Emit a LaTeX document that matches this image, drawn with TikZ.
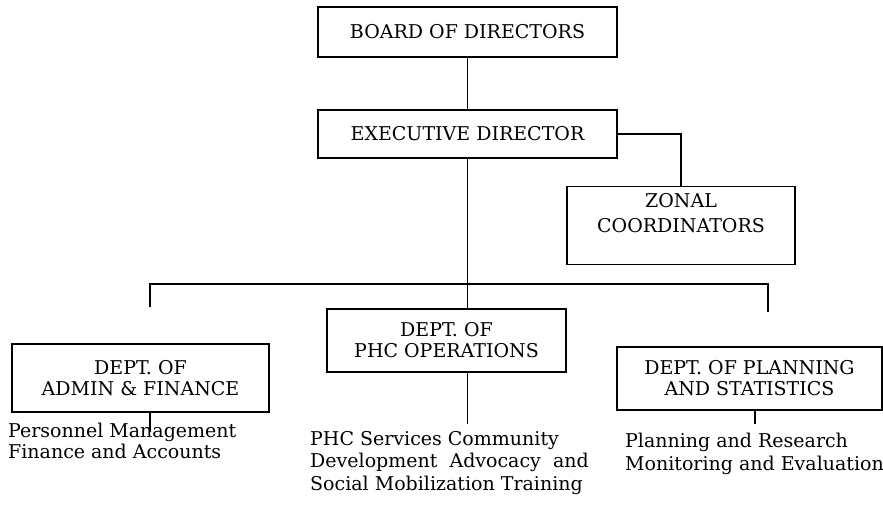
\documentclass[tikz,border=0pt]{standalone}
\usepackage{fontspec}
\setmainfont{DejaVu Serif}
\usetikzlibrary{positioning}
\tikzstyle{line} = [draw, line width=1.1pt]

\begin{document}
\begin{tikzpicture}[x=1pt, y=-1pt, box/.style={rectangle, draw=black, line width=1.1pt, align=center, inner sep=0pt}, txt/.style={align=left, inner sep=0pt, anchor=north west}, font=\fontsize{19}{21}\selectfont]

    \useasboundingbox (0,0) rectangle (883,504);

    \node[box, minimum width=299, minimum height=50] (bod) at (467.5,32) {BOARD OF DIRECTORS};
    \node[box, minimum width=299, minimum height=48] (ed) at (467.5,134) {EXECUTIVE DIRECTOR};
    \node[box, minimum width=228, minimum height=78, anchor=north] (zc) at (681,186) {};
    \node[anchor=north, align=center, inner sep=0pt, font=\fontsize{19}{25}\selectfont] (zct) at ([yshift=-7]zc.north) {ZONAL\\COORDINATORS};

    \node[box, minimum width=257, minimum height=68] (adm) at (140.5,378) {DEPT. OF\\ADMIN \& FINANCE};
    \node[box, minimum width=239, minimum height=63] (phc) at (446.5,340.5) {DEPT. OF\\PHC OPERATIONS};
    \node[box, minimum width=265, minimum height=63] (pln) at (749.5,378.5) {DEPT. OF PLANNING\\AND STATISTICS};

    \node[txt] (admt) at (8,423) {Personnel Management\\Finance and Accounts};
    \node[txt, font=\fontsize{19}{22.5}\selectfont] (phct) at (310,431) {PHC Services Community\\Development\ \ Advocacy\ \ and\\Social Mobilization Training};
    \node[txt, font=\fontsize{19}{23}\selectfont] (plnt) at (625,433) {Planning and Research\\Monitoring and Evaluation};

    \coordinate (bl) at (150,284);
    \coordinate (br) at (768,284);
    \coordinate (bld) at (150,307);
    \coordinate (brd) at (768,312);

    \draw[line] (bod) -- (ed);
    \draw[line] (ed.east) -| (zc.north);
    \draw[line] (ed.south) -- (ed.south |- phc.north);
    \draw[line] (bld) -- (bl) -- (br) -- (brd);

    \draw[line, shorten >=-9pt] (adm.south -| bl) -- (admt.north -| bl);
    \draw[line, shorten >=7pt] (phc.south -| ed.south) -- (phct.north -| ed.south);
    \draw[line, shorten >=9pt] ([xshift=5.5]pln.south) -- ([xshift=5.5]pln.south |- plnt.north);

\end{tikzpicture}
\end{document}
